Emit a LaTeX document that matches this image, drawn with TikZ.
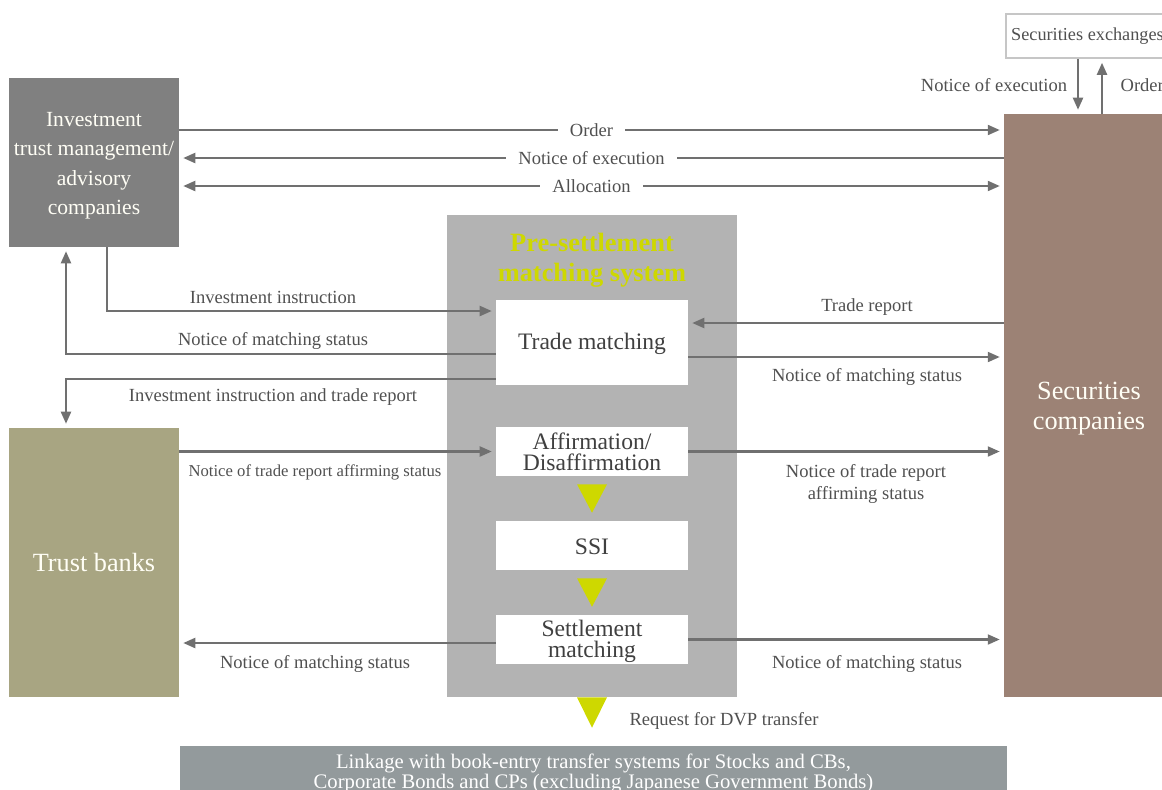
\documentclass[tikz,border=0pt]{standalone}
\usepackage{fontspec}
\setmainfont{Liberation Serif}
\usetikzlibrary{arrows.meta,calc}
\definecolor{invgray}{RGB}{128,128,128}
\definecolor{trustolive}{RGB}{168,165,130}
\definecolor{secbrown}{RGB}{156,130,117}
\definecolor{pregray}{RGB}{179,179,179}
\definecolor{linkgray}{RGB}{147,154,156}
\definecolor{flowgray}{RGB}{112,112,112}
\definecolor{lblgray}{RGB}{80,80,80}
\definecolor{accentyellow}{RGB}{206,216,0}
\newcommand{\topstrut}[1]{\rule{0pt}{#1}}
\tikzset{
  party/.style={text=white!96!yellow, align=center, inner sep=0pt, minimum width=127.5pt, font=\fontsize{19.7}{22.5}\selectfont},
  stage/.style={fill=white, text=lblgray!80!black, align=center, inner sep=0pt, minimum width=144pt, font=\fontsize{17.7}{16}\selectfont},
  flow/.style={draw=flowgray, line width=1.6pt, >={Triangle[length=9pt,width=7.5pt]}, ->, shorten >=3pt},
  lbl/.style={text=lblgray, font=\fontsize{13.9}{16.5}\selectfont, inner sep=1pt, align=center},
}

\begin{document}
\begin{tikzpicture}[x=0.75pt,y=-0.75pt]
\useasboundingbox (0,0) rectangle (1162,789);
\foreach \n/\y in {rOrd/130, rExe/158, rAll/186, rInv/311, rMs/354, rItr/379, rTr/323, rMsr/357, rStl/643}
  \coordinate (\n) at (0,\y);
\foreach \n/\x in {cL/66, cI/107, cExD/1078, cExU/1102}
  \coordinate (\n) at (\x,0);

\node[party, fill=invgray, minimum height=126.75pt, font=\fontsize{16.2}{22}\selectfont] (inv) at (94,162.5) {\topstrut{15.2pt}Investment\\trust management/\\advisory\\companies};
\node[party, fill=trustolive, minimum height=201.75pt] (trust) at (94,562.5) {Trust banks};
\node[party, fill=secbrown, minimum height=437.25pt] (sec) at (1089,405.5) {\topstrut{18pt}Securities\\companies};
\node[draw=gray!45, line width=1.2pt, fill=white, text=lblgray, font=\fontsize{13.7}{16}\selectfont, inner xsep=4pt, minimum height=33pt, anchor=west] (exch) at (1005,36) {Securities exchanges};

\node[fill=pregray, minimum width=217.5pt, minimum height=361.5pt] (pre) at (592,456) {};
\node[text=accentyellow, font=\bfseries\fontsize{19.8}{22.5}\selectfont, align=center] (pretitle) at (592,260) {Pre-settlement\\matching system};
\node[stage, minimum height=63.75pt] (tm) at (592,342.5) {\topstrut{15pt}Trade matching};
\node[stage, minimum height=36.75pt] (aff) at (592,451.5) {Affirmation/\\Disaffirmation};
\node[stage, minimum height=36.75pt] (ssi) at (592,545.5) {\topstrut{13.5pt}SSI};
\node[stage, minimum height=36.75pt] (stm) at (592,639.5) {\topstrut{15pt}Settlement\\matching};
\node[fill=linkgray, text=white, minimum width=620.25pt, minimum height=37.5pt, inner sep=0pt, align=center, font=\fontsize{15.5}{14.5}\selectfont] (link) at (593.5,771) {\topstrut{14.4pt}Linkage with book-entry transfer systems for Stocks and CBs,\\Corporate Bonds and CPs (excluding Japanese Government Bonds)};

\foreach \a/\b in {aff/ssi, ssi/stm}
  \fill[accentyellow] ($(\a.south)+(-15,8)$) -- ($(\a.south)+(15,8)$) -- ($(\b.north)+(0,-8)$) -- cycle;
\fill[accentyellow] ($(pre.south)+(-15,0)$) -- ($(pre.south)+(15,0)$) -- ($(pre.south |- link.north)+(0,-18)$) -- cycle;
\node[lbl, anchor=west] (ldvp) at (628,721) {Request for DVP transfer};

\draw[flow] (inv.east |- rOrd) -- (sec.west |- rOrd) node[lbl, midway, fill=white, inner xsep=9pt] (lOrd) {Order};
\draw[flow] (sec.west |- rExe) -- (inv.east |- rExe) node[lbl, midway, fill=white, inner xsep=9pt] (lExe) {Notice of execution};
\draw[flow, <->, shorten <=3pt] (inv.east |- rAll) -- (sec.west |- rAll) node[lbl, midway, fill=white, inner xsep=9pt] (lAll) {Allocation};

\draw[flow] (exch.south -| cExD) -- (sec.north -| cExD);
\draw[flow] (sec.north -| cExU) -- (exch.south -| cExU);
\node[lbl] (lExeX) at (994,85) {Notice of execution};
\node[lbl, anchor=west] (lOrdX) at (1119,85) {Order};

\draw[flow] (inv.south -| cI) |- (tm.west |- rInv);
\draw[flow] (tm.west |- rMs) -| (cL |- inv.south);
\draw[flow] (tm.west |- rItr) -| (cL |- trust.north);
\node[lbl] (lInv) at (273,297) {Investment instruction};
\node[lbl] (lMsL) at (273,341) {Notice of matching status};
\node[lbl] (lItr) at (273,397) {Investment instruction and trade report};

\draw[flow] (sec.west |- rTr) -- (tm.east |- rTr);
\draw[flow] (tm.east |- rMsr) -- (sec.west |- rMsr);
\node[lbl] (lTr) at (867,307) {Trade report};
\node[lbl] (lMsR) at (867,377) {Notice of matching status};

\draw[flow] (trust.east |- aff.west) -- (aff.west);
\draw[flow] (aff.east) -- (aff.east -| sec.west);
\node[lbl, font=\fontsize{12.5}{15}\selectfont] (lAffL) at (315,472) {Notice of trade report affirming status};
\node[lbl] (lAffR) at (866,484) {Notice of trade report\\affirming status};

\draw[flow] (stm.west |- rStl) -- (trust.east |- rStl);
\draw[flow] (stm.east) -- (stm.east -| sec.west);
\node[lbl] (lStL) at (315,664) {Notice of matching status};
\node[lbl] (lStR) at (867,664) {Notice of matching status};
\end{tikzpicture}
\end{document}
